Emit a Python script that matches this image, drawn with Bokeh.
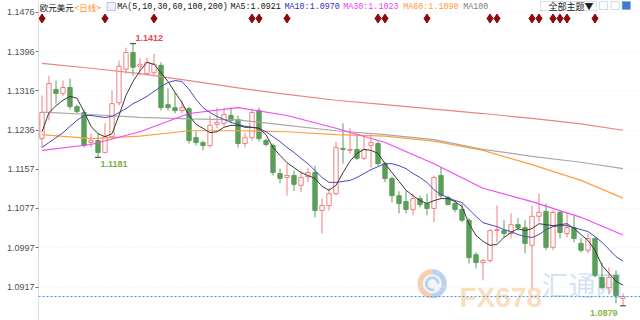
import numpy as np
from bokeh.plotting import figure
from bokeh.models import FixedTicker, PrintfTickFormatter, Label, Span, BoxAnnotation
from bokeh.embed import file_html
from bokeh.resources import INLINE

# ---------------- data ----------------
pair_name = "欧元美元"
period_name = "<日线>"
ma_spec = "MA(5,10,30,60,100,200)"
ma_names = ["MA5", "MA10", "MA30", "MA60"]
ma_last = [1.0921, 1.0970, 1.1023, 1.1098]
extra_ma_name = "MA100"

open_ = [1.1219, 1.1272, 1.1319, 1.1311, 1.1323, 1.1284, 1.1272, 1.1211, 1.1215, 1.1191,
         1.1223, 1.1292, 1.1360, 1.1394, 1.1366, 1.1351, 1.1353, 1.1368, 1.1288, 1.1282,
         1.1276, 1.1280, 1.1221, 1.1211, 1.1205, 1.1248, 1.1250, 1.1266, 1.1258, 1.1209,
         1.1221, 1.1276, 1.1215, 1.1205, 1.1148, 1.1140, 1.1144, 1.1124, 1.1142, 1.1150,
         1.1073, 1.1083, 1.1107, 1.1199, 1.1195, 1.1197, 1.1179, 1.1205, 1.1209, 1.1168,
         1.1138, 1.1103, 1.1091, 1.1075, 1.1097, 1.1087, 1.1077, 1.1144, 1.1099, 1.1087,
         1.1075, 1.1053, 1.0983, 1.0967, 1.0971, 1.1032, 1.1032, 1.1026, 1.1044, 1.1038,
         1.1002, 1.1061, 1.1071, 1.0998, 1.1069, 1.1026, 1.1038, 1.1006, 1.0992, 1.1016,
         1.0937, 1.0916, 1.0941, 1.0894]
high = [1.1307, 1.1347, 1.1337, 1.1337, 1.1341, 1.1288, 1.1278, 1.1229, 1.1229, 1.1250,
        1.1317, 1.1378, 1.1404, 1.1412, 1.1382, 1.1384, 1.1392, 1.1374, 1.1321, 1.1313,
        1.1297, 1.1284, 1.1234, 1.1215, 1.1266, 1.1282, 1.1280, 1.1282, 1.1266, 1.1231,
        1.1280, 1.1282, 1.1219, 1.1209, 1.1158, 1.1168, 1.1154, 1.1152, 1.1160, 1.1164,
        1.1097, 1.1118, 1.1213, 1.1250, 1.1240, 1.1229, 1.1223, 1.1229, 1.1213, 1.1172,
        1.1142, 1.1112, 1.1114, 1.1107, 1.1103, 1.1107, 1.1144, 1.1160, 1.1103, 1.1093,
        1.1087, 1.1057, 1.0988, 1.0975, 1.1036, 1.1083, 1.1053, 1.1067, 1.1057, 1.1053,
        1.1083, 1.1107, 1.1087, 1.1073, 1.1073, 1.1069, 1.1063, 1.1016, 1.1026, 1.1018,
        1.0967, 1.0957, 1.0951, 1.0904]
low = [1.1201, 1.1256, 1.1290, 1.1305, 1.1278, 1.1270, 1.1201, 1.1201, 1.1181, 1.1189,
       1.1219, 1.1286, 1.1351, 1.1347, 1.1347, 1.1347, 1.1347, 1.1276, 1.1276, 1.1270,
       1.1270, 1.1209, 1.1205, 1.1195, 1.1201, 1.1240, 1.1244, 1.1250, 1.1201, 1.1201,
       1.1215, 1.1213, 1.1203, 1.1144, 1.1128, 1.1103, 1.1112, 1.1110, 1.1130, 1.1059,
       1.1026, 1.1073, 1.1103, 1.1168, 1.1189, 1.1175, 1.1175, 1.1160, 1.1164, 1.1130,
       1.1089, 1.1067, 1.1067, 1.1063, 1.1079, 1.1063, 1.1049, 1.1097, 1.1083, 1.1069,
       1.1049, 1.0965, 1.0955, 1.0931, 1.0967, 1.1008, 1.1018, 1.1016, 1.1032, 1.0986,
       1.0914, 1.1049, 1.0992, 1.0992, 1.1016, 1.1018, 1.1008, 1.0988, 1.0986, 1.0937,
       1.0912, 1.0904, 1.0884, 1.0879]
close = [1.1272, 1.1331, 1.1311, 1.1323, 1.1284, 1.1274, 1.1205, 1.1215, 1.1191, 1.1223,
         1.1290, 1.1366, 1.1394, 1.1364, 1.1370, 1.1374, 1.1370, 1.1282, 1.1282, 1.1276,
         1.1282, 1.1215, 1.1211, 1.1205, 1.1246, 1.1252, 1.1268, 1.1256, 1.1209, 1.1221,
         1.1272, 1.1219, 1.1207, 1.1150, 1.1138, 1.1144, 1.1126, 1.1140, 1.1150, 1.1073,
         1.1083, 1.1107, 1.1201, 1.1197, 1.1197, 1.1179, 1.1197, 1.1211, 1.1168, 1.1138,
         1.1103, 1.1087, 1.1075, 1.1097, 1.1085, 1.1077, 1.1140, 1.1103, 1.1085, 1.1075,
         1.1053, 1.0977, 1.0967, 1.0971, 1.1032, 1.1034, 1.1026, 1.1044, 1.1038, 1.1006,
         1.1061, 1.1069, 1.0998, 1.1069, 1.1028, 1.1038, 1.1016, 1.0992, 1.1016, 1.0941,
         1.0916, 1.0937, 1.0900, 1.0898]

ma5 = [1.1233, 1.1272, 1.1286, 1.1297, 1.1305, 1.1301, 1.1274, 1.1244, 1.1229, 1.1223,
       1.1229, 1.1266, 1.1307, 1.1335, 1.1357, 1.1374, 1.1370, 1.1353, 1.1335, 1.1313,
       1.1292, 1.1266, 1.1248, 1.1240, 1.1231, 1.1233, 1.1242, 1.1246, 1.1246, 1.1242,
       1.1242, 1.1240, 1.1227, 1.1201, 1.1185, 1.1170, 1.1160, 1.1150, 1.1144, 1.1138,
       1.1122, 1.1114, 1.1124, 1.1150, 1.1173, 1.1189, 1.1197, 1.1195, 1.1189, 1.1168,
       1.1150, 1.1132, 1.1114, 1.1103, 1.1093, 1.1087, 1.1093, 1.1097, 1.1097, 1.1091,
       1.1081, 1.1046, 1.1022, 1.1010, 1.1002, 1.1004, 1.1018, 1.1028, 1.1036, 1.1032,
       1.1036, 1.1046, 1.1044, 1.1042, 1.1044, 1.1046, 1.1036, 1.1024, 1.1012, 1.0992,
       1.0961, 1.0945, 1.0929, 1.0921]
ma10 = [1.1201, 1.1211, 1.1221, 1.1231, 1.1244, 1.1256, 1.1266, 1.1266, 1.1264, 1.1262,
        1.1264, 1.1272, 1.1280, 1.1290, 1.1297, 1.1305, 1.1315, 1.1325, 1.1333, 1.1337,
        1.1335, 1.1319, 1.1299, 1.1282, 1.1272, 1.1264, 1.1258, 1.1252, 1.1248, 1.1244,
        1.1242, 1.1240, 1.1233, 1.1223, 1.1213, 1.1201, 1.1191, 1.1179, 1.1168, 1.1154,
        1.1140, 1.1130, 1.1130, 1.1132, 1.1134, 1.1140, 1.1148, 1.1156, 1.1162, 1.1168,
        1.1168, 1.1164, 1.1158, 1.1148, 1.1140, 1.1130, 1.1115, 1.1105, 1.1099, 1.1093,
        1.1089, 1.1075, 1.1061, 1.1048, 1.1044, 1.1040, 1.1034, 1.1030, 1.1024, 1.1020,
        1.1018, 1.1024, 1.1034, 1.1040, 1.1042, 1.1042, 1.1038, 1.1034, 1.1030, 1.1020,
        1.1008, 1.0994, 1.0979, 1.0970]

ma_idx = [0, 7, 14, 21, 28, 35, 42, 49, 56, 63, 70, 77, 83]
ma30 = [1.1195, 1.1207, 1.1233, 1.1270, 1.1282, 1.1266, 1.1240, 1.1211, 1.1168, 1.1118, 1.1091, 1.1059, 1.1023]
ma60 = [1.1227, 1.1219, 1.1224, 1.1235, 1.1235, 1.1233, 1.1227, 1.1224, 1.1214, 1.1195, 1.1166, 1.1134, 1.1098]
ma100 = [1.1273, 1.1268, 1.1262, 1.1259, 1.1257, 1.1246, 1.1235, 1.1227, 1.1217, 1.1197, 1.1183, 1.1171, 1.1158]
ma200 = [1.1372, 1.1362, 1.1351, 1.1337, 1.1322, 1.1309, 1.1297, 1.1288, 1.1279, 1.1270, 1.1260, 1.1249, 1.1236]

event_idx = [0, 9, 16, 30, 31, 35, 48, 49, 55, 64, 65, 70, 71, 73, 74, 75, 79]
y_ticks = [1.1476, 1.1396, 1.1316, 1.1236, 1.1157, 1.1077, 1.0997, 1.0917]
high_mark_idx = 13
low_mark_idx = [8, 83]
button_text = "全部主题▼"
wm_latin = "FX678"
wm_cjk = "汇通网"

# ---------------- layout ----------------
W, H = 640, 320
LEFT = 38
Y_TOP, Y_BOT = 1.14998, 1.08492
X0, X1 = -0.5, 85.5
PPX = (Y_TOP - Y_BOT) / H          # price per pixel
UPX = (X1 - X0) / (W - LEFT)       # index units per pixel

def ypx(py):   # page pixel row -> price
    return Y_TOP - py * PPX

def xpx(px):   # page pixel column -> index units
    return X0 + (px - LEFT) * UPX

UP = "#EE7F7F"
DN = "#5A9E58"

p = figure(width=W, height=H, x_range=(X0, X1), y_range=(Y_BOT, Y_TOP),
           output_backend="svg", toolbar_location=None,
           x_axis_location=None, y_axis_location="left",
           min_border_left=LEFT, min_border_right=0, min_border_top=0, min_border_bottom=0,
           background_fill_color="white", border_fill_color="white", outline_line_color=None)

# grid / axis
p.xgrid.grid_line_color = None
p.ygrid.grid_line_color = "#EEEEEE"
p.ygrid.grid_line_dash = "1 2"
ax = p.yaxis[0]
ax.ticker = FixedTicker(ticks=y_ticks)
ax.formatter = PrintfTickFormatter(format="%.4f")
ax.axis_line_color = "#DDDDDD"
ax.major_tick_line_color = "#777777"
ax.major_tick_out = 3
ax.major_tick_in = 0
ax.minor_tick_line_color = None
ax.major_label_standoff = 1
ax.major_label_text_font = "Liberation Sans"
ax.major_label_text_font_size = "9px"
ax.major_label_text_color = "#505050"

# watermark (behind)
lx, ly = xpx(431.7), ypx(283.3)
p.scatter([lx], [ly], size=30, marker="circle", fill_color="#E6F0FA", fill_alpha=0.6,
          line_color=None, level="underlay")
p.arc([lx], [ly], radius=12, radius_units="screen", start_angle=np.pi * 0.5, end_angle=np.pi * 1.5,
      line_color="#F7C49A", line_width=5, line_alpha=0.8, level="underlay")
p.arc([lx], [ly], radius=12, radius_units="screen", start_angle=-np.pi * 0.5, end_angle=np.pi * 0.5,
      line_color="#AFCBEA", line_width=5, line_alpha=0.8, level="underlay")
p.arc([lx], [ly], radius=6, radius_units="screen", start_angle=0, end_angle=np.pi * 1.6,
      line_color="#AFCBEA", line_width=3, line_alpha=0.8, level="underlay")
p.add_layout(Label(x=459 - LEFT, y=H - 297, x_units="screen", y_units="screen", text=wm_latin,
                   text_font="Liberation Sans", text_font_style="bold", text_font_size="28px",
                   text_color="#F9C892", text_alpha=0.6, text_baseline="alphabetic", level="underlay"))
p.add_layout(Label(x=541 - LEFT, y=H - 284, x_units="screen", y_units="screen", text=wm_cjk,
                   text_font="Noto Sans CJK SC", text_font_size="27px",
                   text_color="#B5D0EC", text_alpha=0.6, text_baseline="middle", level="underlay"))

# current price line
p.add_layout(Span(location=close[-1], dimension="width", line_color="#3399FF",
                  line_dash="2 2", line_width=1))

# candles
idx = np.arange(len(close))
o = np.array(open_); c = np.array(close); h = np.array(high); l = np.array(low)
up = c >= o
dn = ~up
p.segment(idx[up], l[up], idx[up], h[up], line_color=UP, line_width=1)
p.segment(idx[dn], l[dn], idx[dn], h[dn], line_color=DN, line_width=1)
p.vbar(x=idx[up], width=0.62, top=c[up], bottom=o[up], fill_color="white", line_color=UP, line_width=1)
p.vbar(x=idx[dn], width=0.62, top=o[dn], bottom=c[dn], fill_color=DN, line_color=DN, line_width=1)

# moving averages
p.line(ma_idx, ma200, line_color="#E98585", line_width=1.2)
p.line(ma_idx, ma100, line_color="#A9A9A9", line_width=1.2)
p.line(ma_idx, ma60, line_color="#FF9F40", line_width=1.2)
p.line(ma_idx, ma30, line_color="#F24BF2", line_width=1.2)
p.line(idx, ma10, line_color="#4A4AB8", line_width=1)
p.line(idx, ma5, line_color="#3A3A3A", line_width=1)

# event diamonds
p.scatter(event_idx, [ypx(18)] * len(event_idx), marker="diamond", size=9,
          fill_color="#8E0A0A", line_color="#8E0A0A")

# extreme markers & labels
ext_x = [high_mark_idx] + low_mark_idx
ext_y = [high[high_mark_idx]] + [low[i] for i in low_mark_idx]
p.scatter(ext_x, ext_y, marker="dash", size=6, line_color="#333333", line_width=1)
p.add_layout(Label(x=high_mark_idx + 2.5 * UPX, y=high[high_mark_idx] + 5.5 * PPX,
                   text="%.4f" % high[high_mark_idx], text_font="Liberation Sans",
                   text_font_style="bold", text_font_size="9px", text_color="#E04B4B",
                   text_baseline="middle", text_align="left"))
i0 = low_mark_idx[0]
p.add_layout(Label(x=i0 + 2.5 * UPX, y=low[i0] - 6.5 * PPX, text="%.4f" % low[i0],
                   text_font="Liberation Sans", text_font_style="bold", text_font_size="9px",
                   text_color="#7DAE45", text_baseline="middle", text_align="left"))
i1 = low_mark_idx[1]
p.add_layout(Label(x=i1 - 5.5 * UPX, y=low[i1] - 7.5 * PPX, text="%.4f" % low[i1],
                   text_font="Liberation Sans", text_font_style="bold", text_font_size="9px",
                   text_color="#8DB34A", text_baseline="middle", text_align="right"))

# header
HY = H - 6
def hdr(x_page, text, color, font="Liberation Mono", size="8.4px"):
    p.add_layout(Label(x=x_page - LEFT, y=HY, x_units="screen", y_units="screen", text=text,
                       text_font=font, text_font_size=size, text_color=color,
                       text_baseline="middle", text_align="left"))

hdr(39.3, pair_name, "#111111", font="Noto Sans CJK SC", size="8.5px")
hdr(74, period_name, "#FF8C1A", font="Noto Sans CJK SC", size="8.5px")
p.add_layout(BoxAnnotation(left=106.7 - LEFT, right=115 - LEFT, top=H - 2, bottom=H - 10,
                           left_units="screen", right_units="screen", top_units="screen",
                           bottom_units="screen", fill_color="#EEF0FF", fill_alpha=1,
                           line_color="#4A4AB8", line_width=1))
hdr(116.7, ma_spec, "#111111")
hdr(230, "%s:%.4f" % (ma_names[0], ma_last[0]), "#111111")
hdr(284, "%s:%.4f" % (ma_names[1], ma_last[1]), "#2E2EC8")
hdr(342.7, "%s:%.4f" % (ma_names[2], ma_last[2]), "#F23CF2")
hdr(402.7, "%s:%.4f" % (ma_names[3], ma_last[3]), "#FF9933")
hdr(462.7, extra_ma_name, "#808080")

# button and icons
p.add_layout(BoxAnnotation(left=540 - LEFT, right=596 - LEFT, top=H - 1, bottom=H - 10,
                           left_units="screen", right_units="screen", top_units="screen",
                           bottom_units="screen", fill_color="white", fill_alpha=1,
                           line_color="#7F9DB9", line_width=1))
hdr(548, button_text, "#222222", font="Noto Sans CJK SC", size="9px")
for (a, b, fc) in [(599, 607, "white"), (610.7, 618.7, "white"), (621.7, 630, "#3D7CC9")]:
    p.add_layout(BoxAnnotation(left=a - LEFT, right=b - LEFT, top=H - 1, bottom=H - 9,
                               left_units="screen", right_units="screen", top_units="screen",
                               bottom_units="screen", fill_color=fc, fill_alpha=1,
                               line_color="#5B8FD0", line_width=1))

open("out.html", "w").write(file_html(p, INLINE))
